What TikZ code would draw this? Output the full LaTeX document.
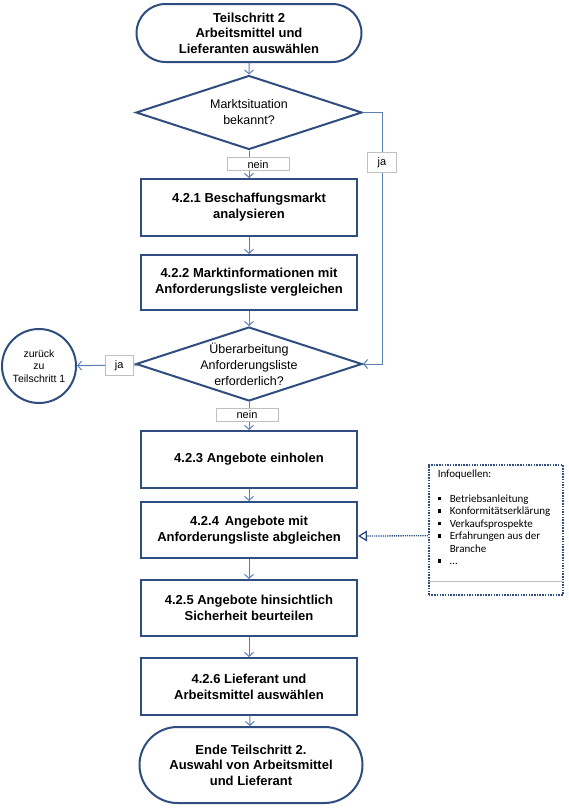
\documentclass[tikz,border=0pt]{standalone}
\usepackage{fontspec}
\setmainfont{Liberation Sans}
\newfontfamily\infofont{Carlito}
\usetikzlibrary{shapes.geometric, shapes.misc, arrows.meta}
\definecolor{boxblue}{HTML}{2F4D7E}
\definecolor{lineblue}{HTML}{5A7FB5}
\definecolor{labelgray}{HTML}{C0C0C0}
\newcommand{\bulletsq}{\makebox[12pt][l]{\rule[2pt]{3.4pt}{3.4pt}}}

\begin{document}
\begin{tikzpicture}[x=1pt, y=-1pt,
    terminal/.style={rounded rectangle, draw=boxblue, line width=2pt, minimum width=225pt, minimum height=58pt, inner sep=0pt, align=center, font=\fontsize{13}{15.5}\selectfont\bfseries},
    process/.style={rectangle, draw=boxblue, line width=2pt, minimum width=216pt, minimum height=56pt, inner sep=0pt, align=center, font=\fontsize{13}{16}\selectfont\bfseries},
    decision/.style={diamond, draw=boxblue, line width=2pt, minimum width=226pt, minimum height=74pt, inner sep=0pt},
    dtext/.style={align=center, font=\fontsize{12.5}{16}\selectfont},
    flow/.style={draw=lineblue, line width=1pt, -{Straight Barb[length=4pt,width=9pt]}},
    lbl/.style={draw=labelgray, fill=white, inner sep=0pt, font=\fontsize{11}{12}\selectfont},
    infobox/.style={draw=boxblue, dash pattern=on 1.5pt off 1.2pt, line width=1.5pt, inner xsep=9pt, inner ysep=5pt},
    infolink/.style={draw=boxblue, dash pattern=on 1.2pt off 1pt, line width=1.3pt, -{Triangle[open, length=9pt, width=11pt]}}]
  \useasboundingbox (0,0) rectangle (568,809);

  % main column
  \node[terminal] (start) at (249,33) {Teilschritt 2\\Arbeitsmittel und\\Lieferanten auswählen};
  \node[decision, label={[dtext]center:Marktsituation\\bekannt?}] (d1) at (249,112.5) {};
  \node[process, minimum height=57pt] (b1) at (249,207.5) {4.2.1 Beschaffungsmarkt\\analysieren};
  \node[process, minimum height=55pt] (b2) at (249,282.5) {4.2.2 Marktinformationen mit\\Anforderungsliste vergleichen};
  \node[decision, label={[dtext]center:Überarbeitung\\Anforderungsliste\\erforderlich?}] (d2) at (249,364) {};
  \node[process, minimum height=57pt] (b3) at (249,459.5) {4.2.3 Angebote einholen};
  \node[process] (b4) at (249,530) {4.2.4\, Angebote mit\\Anforderungsliste abgleichen};
  \node[process] (b5) at (249,608) {4.2.5 Angebote hinsichtlich\\Sicherheit beurteilen};
  \node[process, minimum height=57pt] (b6) at (249,686.5) {4.2.6 Lieferant und\\Arbeitsmittel auswählen};
  \node[terminal, minimum width=223pt, minimum height=76pt] (end) at (251,765) {Ende Teilschritt 2.\\Auswahl von Arbeitsmittel\\und Lieferant};

  % side nodes
  \node[circle, draw=boxblue, line width=2pt, minimum size=74pt, inner sep=0pt, align=center, font=\fontsize{10.5}{12.5}\selectfont] (back) at (39,366) {zurück\\zu\\Teilschritt 1};
  \node[infobox, anchor=north west] (info) at (428,464) {\parbox[t][120pt][t]{116pt}{\infofont\fontsize{11}{12.5}\selectfont
    Infoquellen:\\[12.5pt]
    \bulletsq Betriebsanleitung\\
    \bulletsq Konformitätserklärung\\
    \bulletsq Verkaufsprospekte\\
    \bulletsq Erfahrungen aus der\\
    \hspace*{12pt}Branche\\
    \bulletsq …}};
  \draw[labelgray, line width=0.8pt] ([yshift=14pt]info.south west) -- ([yshift=14pt]info.south east);

  % connectors
  \draw[flow] (start) -- (d1);
  \draw[flow] (d1) -- node[lbl, minimum width=62pt, minimum height=13pt, xshift=9pt] {nein} (b1);
  \draw[flow] (b1) -- (b2);
  \draw[flow] (b2) -- (d2);
  \draw[flow] (d1.east) -- ++(19,0) coordinate (jacorner) -- node[lbl, minimum width=29pt, minimum height=20pt, pos=0.2] {ja} (jacorner |- d2.east) -- (d2.east);
  \draw[flow] (d2) -- node[lbl, minimum width=28pt, minimum height=20pt, pos=0.31] {ja} (back);
  \draw[flow] (d2) -- node[lbl, minimum width=62pt, minimum height=13pt, pos=0.45, xshift=-2pt] {nein} (b3);
  \draw[flow] (b3) -- (b4);
  \draw[flow] (b4) -- (b5);
  \draw[flow] (b5) -- (b6);
  \draw[flow] (b6) -- (end);
  \draw[infolink] ([yshift=-6pt]info.west) -- ([yshift=-6pt]b4.east);
\end{tikzpicture}
\end{document}
